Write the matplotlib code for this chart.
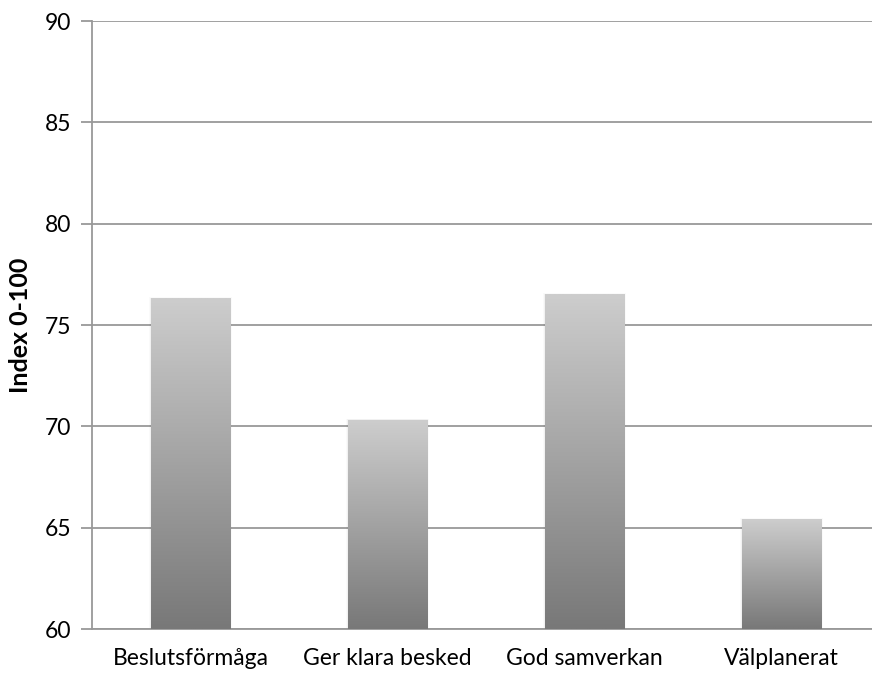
import numpy as np
import matplotlib
matplotlib.use("Agg")
import matplotlib.pyplot as plt
from matplotlib.colors import LinearSegmentedColormap

categories = ["Beslutsförmåga", "Ger klara besked", "God samverkan", "Välplanerat"]
values = [76.3, 70.3, 76.5, 65.4]
y_ticks = [60, 65, 70, 75, 80, 85, 90]
y_label = "Index 0-100"

plt.rcParams["font.family"] = ["Lato", "DejaVu Sans"]

fig = plt.figure(figsize=(8.72, 6.73), dpi=100)
ax = fig.add_axes([92 / 872, 1 - 629 / 673, 788 / 872, 608 / 673])

grid_color = "#999999"
ax.set_ylim(60, 90)
ax.set_xlim(-0.5, len(categories) - 0.5)
ax.set_yticks(y_ticks)
ax.yaxis.grid(True, color=grid_color, linewidth=1.3, zorder=0)
ax.set_axisbelow(True)

for side in ("top", "right"):
    ax.spines[side].set_visible(False)
for side in ("left", "bottom"):
    ax.spines[side].set_color(grid_color)
    ax.spines[side].set_linewidth(1.3)

ax.tick_params(axis="y", length=8, width=1.3, color=grid_color, labelsize=16.5, pad=7)
ax.tick_params(axis="x", length=0, labelsize=16.5, pad=14)
ax.set_xticks(range(len(categories)))
ax.set_xticklabels(categories)
ax.set_ylabel(y_label, fontsize=18, fontweight="bold", labelpad=9)

bars = ax.bar(range(len(categories)), [v - 60 for v in values], bottom=60,
              width=0.405, color="none", edgecolor="none", zorder=3)

cmap = LinearSegmentedColormap.from_list("bar_grad", ["#787878", "#cdcdcd"])
grad = np.linspace(0, 1, 256).reshape(-1, 1)
for b in bars:
    x0, y0 = b.get_x(), b.get_y()
    x1, y1 = x0 + b.get_width(), y0 + b.get_height()
    # faint shadow along the bar sides
    for k, a in enumerate([0.035, 0.02]):
        dx = 0.004 * (k + 1)
        ax.add_patch(plt.Rectangle((x0 - dx, y0), (x1 - x0) + 2 * dx,
                                   (y1 - y0) + 0.04 * (k + 1),
                                   facecolor="black", alpha=a, edgecolor="none", zorder=2))
    ax.imshow(grad, extent=[x0, x1, y0, y1], origin="lower", aspect="auto",
              cmap=cmap, zorder=3, interpolation="bilinear")

ax.set_xlim(-0.5, len(categories) - 0.5)
ax.set_ylim(60, 90)

fig.savefig("out.png", dpi=100)
